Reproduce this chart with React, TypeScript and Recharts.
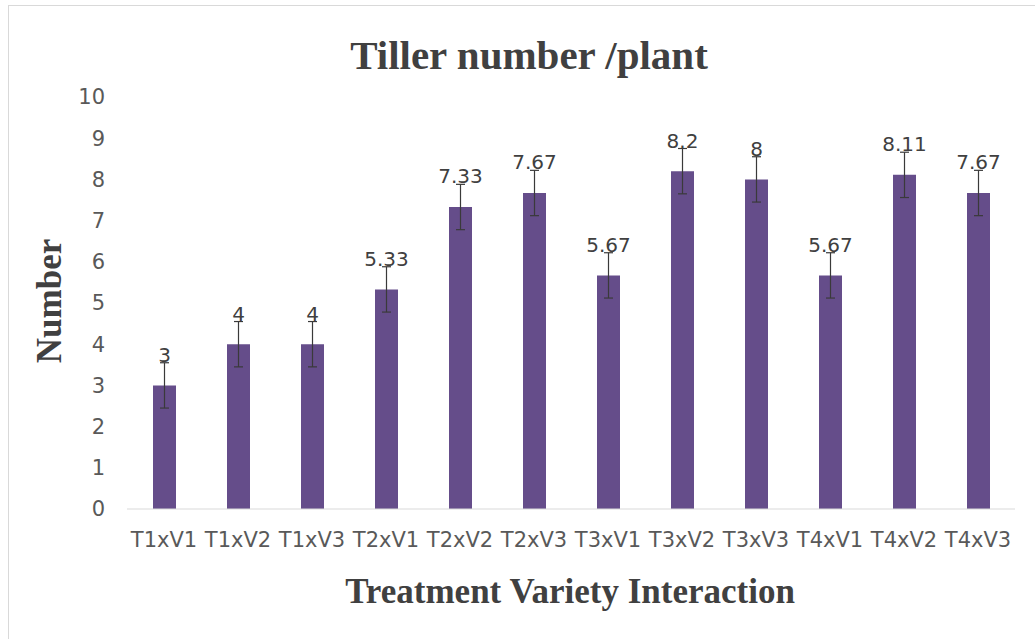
import React from 'react';
import { BarChart, Bar, XAxis, YAxis, ErrorBar, LabelList } from 'recharts';

const categories = [
  'T1xV1', 'T1xV2', 'T1xV3', 'T2xV1', 'T2xV2', 'T2xV3',
  'T3xV1', 'T3xV2', 'T3xV3', 'T4xV1', 'T4xV2', 'T4xV3',
];
const tillers = [3, 4, 4, 5.33, 7.33, 7.67, 5.67, 8.2, 8, 5.67, 8.11, 7.67];
const errors = [0.55, 0.55, 0.55, 0.55, 0.55, 0.55, 0.55, 0.55, 0.55, 0.55, 0.55, 0.55];
const yTicks = [0, 1, 2, 3, 4, 5, 6, 7, 8, 9, 10];

const data = categories.map((name, i) => ({ name, value: tillers[i], err: errors[i] }));

const BAR_COLOR = '#654d8a';
const serif = '"Liberation Serif", "Times New Roman", serif';
const sans = '"DejaVu Sans", Verdana, sans-serif';

// value label sits on top of the error bar cap
const ValueLabel = (props: any) => {
  const { x, y, width, height, value, index } = props;
  const err = errors[index] ?? 0;
  const pxPerUnit = value ? height / value : 0;
  const capY = y - err * pxPerUnit;
  return (
    <text x={x + width / 2} y={capY - 1} textAnchor="middle" fontSize={20} fontFamily={sans} fill="#404040">
      {String(value)}
    </text>
  );
};

const App: React.FC = () => {
  return (
    <div style={{ position: 'fixed', left: 0, top: 0, width: 1035, height: 639, background: '#fff', overflow: 'hidden' }}>
      <div style={{ position: 'absolute', left: 8, top: 5, width: 1100, height: 700, border: '1px solid #d9d9d9' }} />
      <div style={{ position: 'absolute', left: 0, top: 31, width: 1058, textAlign: 'center', fontFamily: serif, fontWeight: 'bold', fontSize: 41, color: '#404040', lineHeight: '48px' }}>
        Tiller number /plant
      </div>
      <div style={{ position: 'absolute', left: 0, top: 571, width: 1140, textAlign: 'center', fontFamily: serif, fontWeight: 'bold', fontSize: 35, color: '#404040', lineHeight: '42px' }}>
        Treatment Variety Interaction
      </div>
      <div style={{ position: 'absolute', left: 50, top: 301, transform: 'translate(-50%, -50%) rotate(-90deg)', fontFamily: serif, fontWeight: 'bold', fontSize: 35, color: '#404040', lineHeight: '40px', whiteSpace: 'nowrap' }}>
        Number
      </div>
      <div style={{ position: 'absolute', left: 0, top: 0 }}>
        <BarChart width={1035} height={639} data={data} margin={{ top: 97, right: 20, left: 67, bottom: 100 }}>
          <XAxis
            dataKey="name"
            height={30}
            tickLine={false}
            tickSize={0}
            tickMargin={23}
            axisLine={{ stroke: '#d9d9d9' }}
            tick={{ fill: '#595959', fontSize: 21, fontFamily: sans }}
            interval={0}
          />
          <YAxis
            width={60}
            domain={[0, 10]}
            ticks={yTicks}
            axisLine={false}
            tickLine={false}
            tickSize={0}
            tickMargin={22}
            tick={{ fill: '#595959', fontSize: 21, fontFamily: sans }}
          />
          <Bar dataKey="value" fill={BAR_COLOR} barSize={23} isAnimationActive={false}>
            <ErrorBar dataKey="err" width={4.5} stroke="#3a3a3a" strokeWidth={1.2} direction="y" />
            <LabelList dataKey="value" content={ValueLabel} />
          </Bar>
        </BarChart>
      </div>
    </div>
  );
};

export default App;
